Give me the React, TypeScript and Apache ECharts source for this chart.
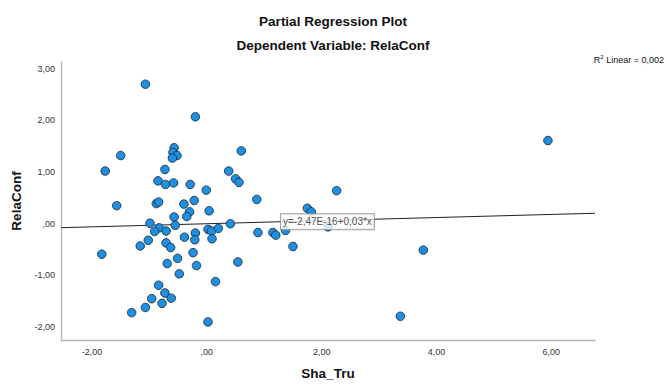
import React, { useEffect, useRef } from "react";
import * as echarts from "echarts";

// Partial regression residuals
const shaTru: number[] = [
  -1.07, -0.2, -0.57, -0.59, -0.52, -0.6, 0.6, -1.5, -1.77, -0.73,
  0.38, 0.5, 0.56, -0.85, -0.72, -0.58, -0.29, -0.01, 0.87, -0.22,
  -1.57, -0.88, -0.84, -0.4, 0.04, -0.3, -0.57, -0.35, -0.99, -0.55,
  0.41, -0.83, -0.91, -0.71, 0.02, 0.08, 0.2, -0.2, 0.89, -0.39,
  -0.21, 0.09, -1.02, -0.71, -1.16, -0.63, -1.83, -0.24, -0.51, 0.54,
  -0.69, -0.18, -0.48, 0.15, -0.84, -0.73, -0.62, -0.96, -0.78, -1.07,
  -1.31, 0.02, 2.26, 1.75, 1.82, 1.15, 1.2, 1.37, 2.11, 1.5,
  5.94, 3.77, 3.37,
];
const relaConf: number[] = [
  2.7, 2.07, 1.47, 1.38, 1.32, 1.27, 1.41, 1.32, 1.02, 1.05,
  1.02, 0.87, 0.8, 0.83, 0.76, 0.79, 0.76, 0.65, 0.47, 0.45,
  0.35, 0.39, 0.42, 0.38, 0.25, 0.23, 0.13, 0.14, 0.01, -0.03,
  0.0, -0.08, -0.15, -0.14, -0.11, -0.14, -0.09, -0.18, -0.17, -0.26,
  -0.31, -0.29, -0.32, -0.37, -0.43, -0.46, -0.59, -0.56, -0.67, -0.74,
  -0.77, -0.81, -0.97, -1.12, -1.19, -1.34, -1.44, -1.45, -1.54, -1.62,
  -1.72, -1.9, 0.64, 0.3, 0.23, -0.17, -0.22, -0.13, -0.06, -0.44,
  1.61, -0.51, -1.79,
];

const xTicks: number[] = [-2, 0, 2, 4, 6];
const yTicks: number[] = [-2, -1, 0, 1, 2, 3];
const xRange: number[] = [-2.54, 6.76];
const yRange: number[] = [-2.25, 3.13];

// Fit line from the reference: y = -2.47E-16 + 0.03*x
const intercept = -2.47e-16;
const slope = 0.03;
const fitLabel = "y=-2,47E-16+0,03*x";
const fitLabelX = 1.29;
const r2Text = "0,002";

const fmt = (v: number) => {
  if (v === 0) return ",00";
  return v.toFixed(2).replace(".", ",");
};

const FONT = "Liberation Sans, Arial, sans-serif";

export default function App() {
  const ref = useRef<HTMLDivElement>(null);
  useEffect(() => {
    if (!ref.current) return;
    const chart = echarts.init(ref.current, undefined, { renderer: "svg" });
    const points = shaTru.map((x, i) => [x, relaConf[i]]);
    const fit = xRange.map((x) => [x, intercept + slope * x]);
    chart.setOption({
      animation: false,
      textStyle: { fontFamily: FONT },
      title: [
        {
          text: "Partial Regression Plot",
          left: "center",
          top: 9,
          textStyle: { fontFamily: FONT, fontSize: 13.5, fontWeight: "bold", color: "#111" },
        },
        {
          text: "Dependent Variable: RelaConf",
          left: "center",
          top: 33,
          textStyle: { fontFamily: FONT, fontSize: 13.5, fontWeight: "bold", color: "#111" },
        },
      ],
      graphic: [
        {
          type: "text",
          right: 2,
          top: 54,
          style: {
            text: "{a|R}{s|2}{a| Linear = " + r2Text + "}",
            rich: {
              a: { fontFamily: FONT, fontSize: 9, fill: "#111", color: "#111" },
              s: { fontFamily: FONT, fontSize: 6, fill: "#111", color: "#111", padding: [0, 0, 5, 0] },
            },
          },
        },
      ],
      grid: { left: 61, right: 71, top: 62, bottom: 42, containLabel: false },
      xAxis: {
        type: "value",
        min: xRange[0],
        max: xRange[1],
        name: "Sha_Tru",
        nameLocation: "middle",
        nameGap: 26,
        nameTextStyle: { fontFamily: FONT, fontSize: 13.5, fontWeight: "bold", color: "#111" },
        axisLine: { show: true, onZero: false, lineStyle: { color: "#b4b4b4", width: 1.3 } },
        axisTick: { show: false },
        splitLine: { show: false },
        axisLabel: {
          customValues: xTicks,
          formatter: fmt,
          fontFamily: FONT,
          fontSize: 9,
          color: "#333",
          margin: 7,
        },
      },
      yAxis: {
        type: "value",
        min: yRange[0],
        max: yRange[1],
        name: "RelaConf",
        nameLocation: "middle",
        nameGap: 37,
        nameTextStyle: { fontFamily: FONT, fontSize: 13.5, fontWeight: "bold", color: "#111" },
        axisLine: { show: true, onZero: false, lineStyle: { color: "#b4b4b4", width: 1.3 } },
        axisTick: { show: false },
        splitLine: { show: false },
        axisLabel: {
          customValues: yTicks,
          formatter: fmt,
          fontFamily: FONT,
          fontSize: 9,
          color: "#333",
          margin: 6,
        },
      },
      series: [
        {
          type: "line",
          data: fit,
          symbol: "none",
          z: 1,
          lineStyle: { color: "#222", width: 1 },
          silent: true,
        },
        {
          type: "scatter",
          data: points,
          symbol: "circle",
          symbolSize: 8.5,
          z: 2,
          itemStyle: { color: "#1f8fe0", borderColor: "#1c2f45", borderWidth: 0.9, opacity: 1 },
        },
        {
          type: "scatter",
          data: [[fitLabelX, intercept + slope * fitLabelX]],
          symbolSize: 0,
          z: 5,
          label: {
            show: true,
            position: "right",
            distance: 0,
            formatter: fitLabel,
            fontFamily: FONT,
            fontSize: 10,
            color: "#222",
            backgroundColor: "#fff",
            borderColor: "#8a8a8a",
            borderWidth: 1,
            padding: [3, 2, 2, 2],
          },
        },
      ],
    });
    return () => chart.dispose();
  }, []);
  return (
    <div
      ref={ref}
      style={{ position: "fixed", left: 0, top: 0, width: 666, height: 385, background: "#fff" }}
    />
  );
}
